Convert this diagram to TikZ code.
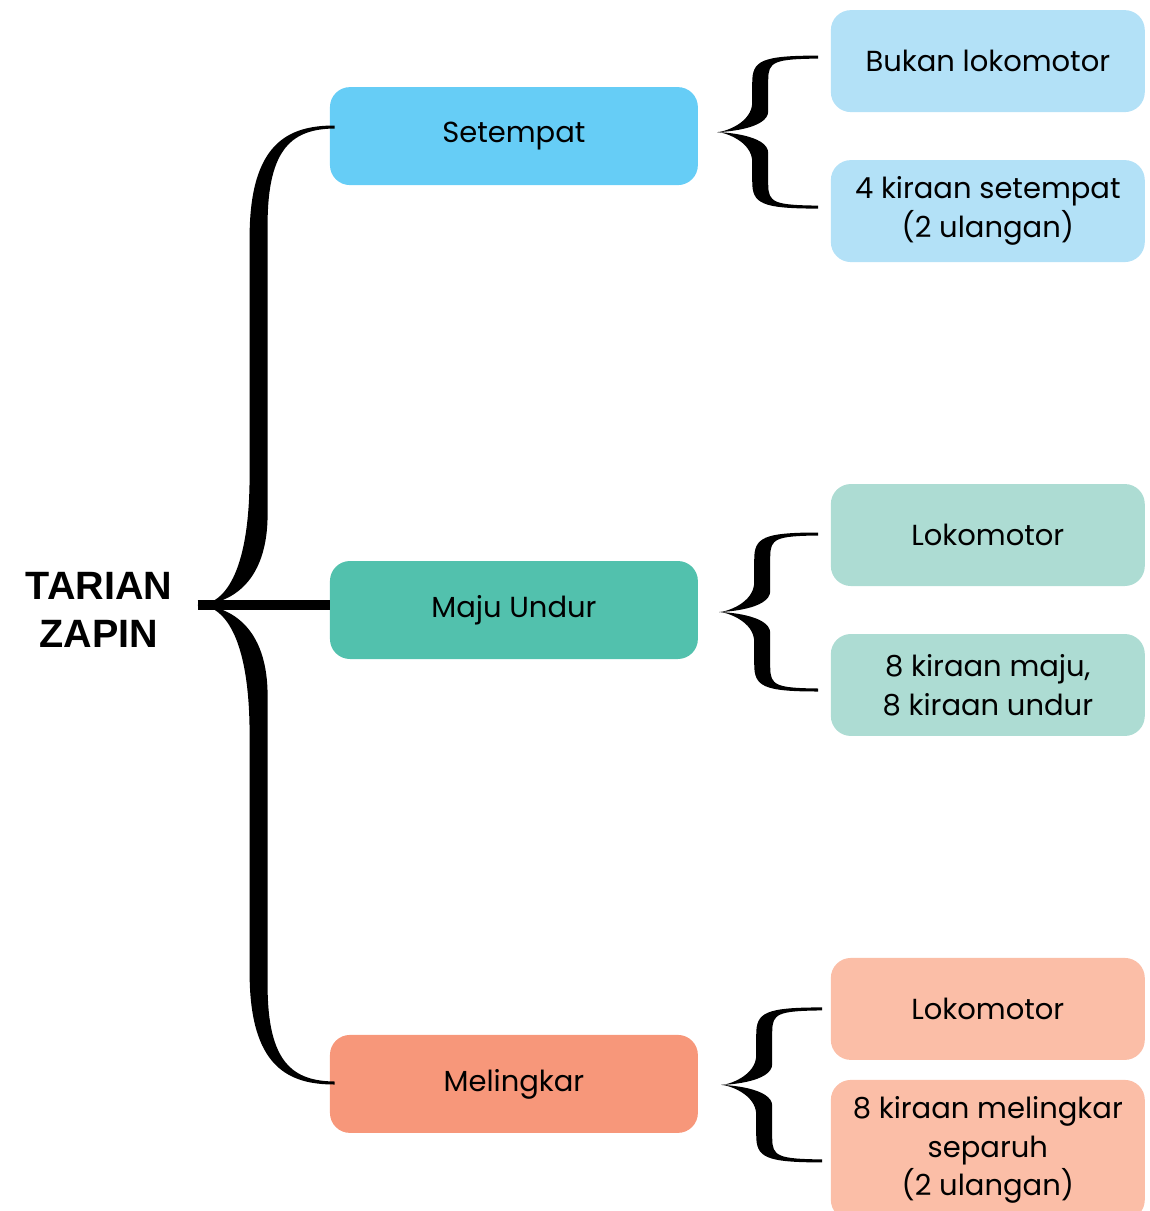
\documentclass[tikz,border=0pt]{standalone}
\usepackage{fontspec}
\setmainfont{Poppins}
\newfontfamily\rootfont{Liberation Sans}
\usetikzlibrary{calc}

\definecolor{setblue}{HTML}{66CDF6}
\definecolor{setpale}{HTML}{B3E1F7}
\definecolor{majugreen}{HTML}{52C1AD}
\definecolor{majupale}{HTML}{ADDCD3}
\definecolor{lingred}{HTML}{F7977A}
\definecolor{lingpale}{HTML}{FBBEA7}

% curly brace: tip, width, half height, stem offset, stem thickness, curve size
\newcommand{\curly}[6]{%
  \begin{scope}[shift={(#1)}]
    \foreach \side in {1,-1}{
      \fill[yscale=\side] (0,0) .. controls ({0.23*#6},0) and (#4,{-0.3*#6}) .. (#4,-#6)
        -- (#4,{-#3+0.85*#6}) .. controls (#4,{-#3+0.12*#6}) and ({#4+0.3*#6},{-#3-1.5}) .. (#2,{-#3-1.5})
        -- (#2,{-#3+1.5}) .. controls ({#4+#5+0.2*#6},{-#3+2}) and ({#4+#5},{-#3+0.15*#6}) .. ({#4+#5},{-#3+0.75*#6})
        -- ({#4+#5},{-0.7*#6}) .. controls ({#4+#5},{-0.08*#6}) and ({0.15*#6},0) .. (0,0) -- cycle;
    }
  \end{scope}}

\begin{document}
\begin{tikzpicture}[
    x=0.02cm, y=-0.02cm,
    grow'=right,
    level 1/.style={sibling distance=9.48cm, level distance=8.3cm},
    level 2/.style={sibling distance=3cm, level distance=9.48cm},
    edge from parent/.style={draw=none},
    rootbox/.style={font=\rootfont\bfseries\fontsize{22.5}{27}\selectfont, align=center},
    midbox/.style={rounded corners=0.4cm, minimum width=7.36cm, minimum height=1.96cm,
      align=center, font=\fontsize{16.5}{22}\selectfont},
    leafbox/.style={rounded corners=0.4cm, minimum width=6.28cm, minimum height=2.04cm,
      align=center, font=\fontsize{16.5}{22}\selectfont}
  ]
  \clip (0,0) rectangle (1150,1211);
  \node[rootbox] (zapin) at (99,610) {TARIAN\\ZAPIN}
      child { node[midbox, fill=setblue] (setempat) {Setempat}
          child { node[leafbox, fill=setpale] (setA) {Bukan lokomotor} }
          child { node[leafbox, fill=setpale] (setB) {4 kiraan setempat\\(2 ulangan)} }
      }
      child { node[midbox, fill=majugreen] (maju) {Maju Undur}
          child { node[leafbox, fill=majupale] (majuA) {Lokomotor} }
          child { node[leafbox, fill=majupale] (majuB) {8 kiraan maju,\\8 kiraan undur} }
      }
      child { node[midbox, fill=lingred] (ling) {Melingkar}
          child { node[leafbox, fill=lingpale] (lingA) {Lokomotor} }
          child { node[leafbox, fill=lingpale, minimum height=2.8cm, yshift=0.18cm] (lingB)
              {8 kiraan melingkar\\separuh\\(2 ulangan)} }
      }
  ;
  % braces
  \coordinate (bigtip) at ($(maju.west)+(-132,-5)$);
  \curly{bigtip}{137}{478}{52}{18}{130}
  \draw[line width=6.2pt] (bigtip) -- (maju.west |- bigtip);
  \coordinate (settip) at ($(setempat.east)+(19,-4)$);
  \curly{settip}{101}{75}{35}{16}{30}
  \coordinate (majutip) at ($(maju.east)+(21,2)$);
  \curly{majutip}{99}{78}{35}{16}{30}
  \coordinate (lingtip) at ($(ling.east)+(23,1)$);
  \curly{lingtip}{101}{76}{35}{16}{30}
\end{tikzpicture}
\end{document}
